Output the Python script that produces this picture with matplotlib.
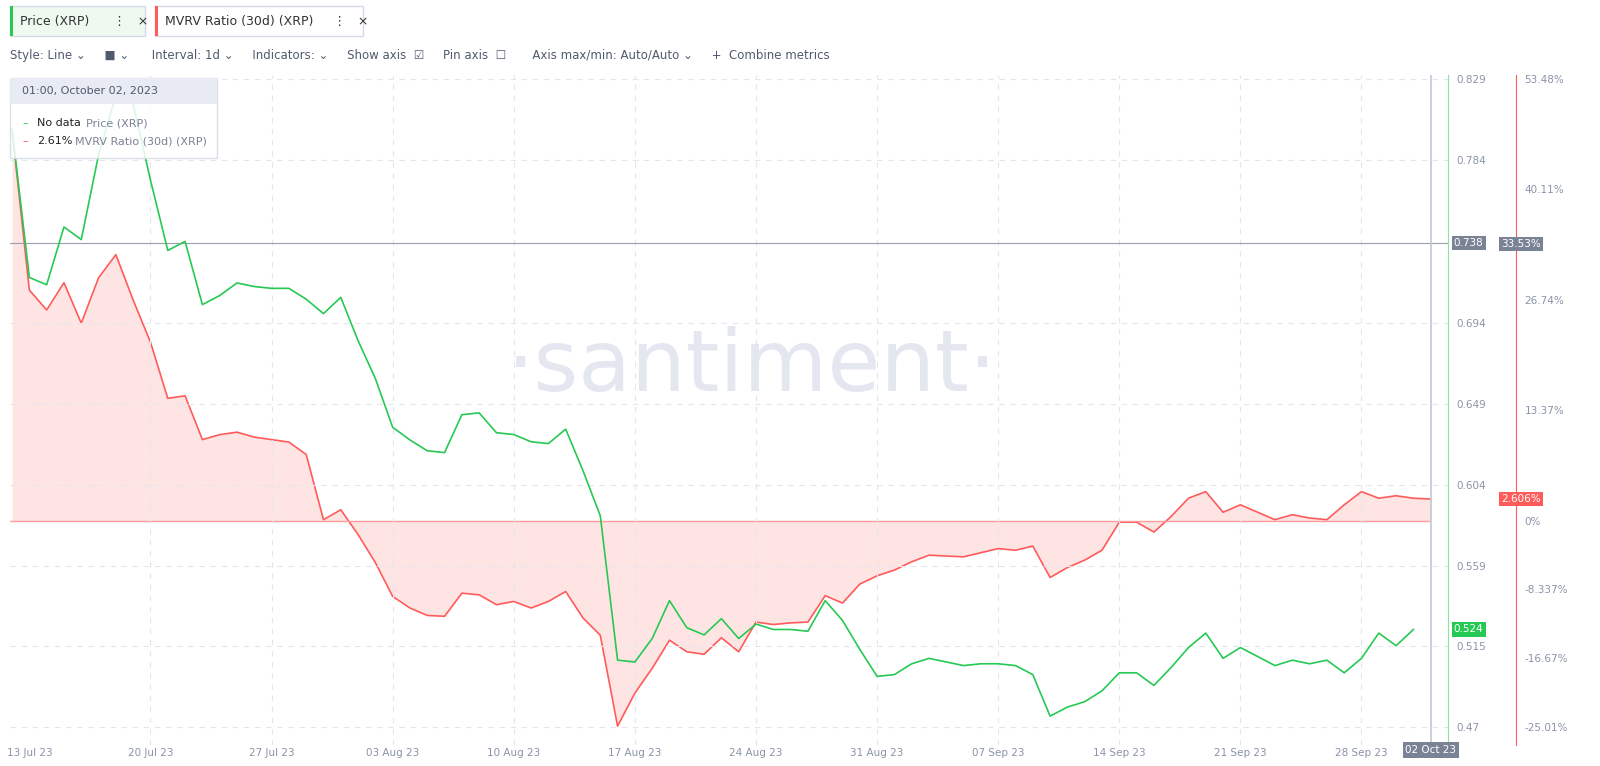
import matplotlib
matplotlib.use("Agg")
import matplotlib.pyplot as plt
from matplotlib.patches import Rectangle
import matplotlib.transforms as mtrans
import numpy as np

price = [0.801,0.719,0.715,0.747,0.740,0.787,0.820,0.815,0.773,0.734,
         0.739,0.704,0.709,0.716,0.714,0.713,0.713,0.707,0.699,0.708,
         0.684,0.663,0.636,0.629,0.623,0.622,0.643,0.644,0.633,0.632,
         0.628,0.627,0.635,0.612,0.587,0.507,0.506,0.519,0.540,0.525,
         0.521,0.530,0.519,0.527,0.524,0.524,0.523,0.540,0.529,0.513,
         0.498,0.499,0.505,0.508,0.506,0.504,0.505,0.505,0.504,0.499,
         0.476,0.481,0.484,0.490,0.500,0.500,0.493,0.503,0.514,0.522,
         0.508,0.514,0.509,0.504,0.507,0.505,0.507,0.500,0.508,0.522,
         0.515,0.524]
mvrv = [47.3,27.9,25.5,28.8,23.9,29.4,32.2,26.7,21.6,14.8,
        15.1,9.8,10.4,10.7,10.1,9.8,9.5,8.0,0.1,1.3,
        -1.7,-5.1,-9.2,-10.6,-11.5,-11.6,-8.8,-9.0,-10.2,-9.8,
        -10.6,-9.8,-8.6,-11.8,-13.9,-24.9,-20.9,-17.9,-14.5,-15.9,
        -16.2,-14.2,-15.9,-12.3,-12.6,-12.4,-12.3,-9.1,-10.0,-7.7,
        -6.7,-6.0,-5.0,-4.2,-4.3,-4.4,-3.9,-3.4,-3.6,-3.1,
        -6.9,-5.7,-4.8,-3.6,-0.2,-0.2,-1.4,0.5,2.7,3.5,
        1.0,1.9,1.0,0.1,0.7,0.3,0.1,1.9,3.5,2.7,
        3.0,2.7,2.61]
date_labels = ["13 Jul 23","20 Jul 23","27 Jul 23","03 Aug 23","10 Aug 23","17 Aug 23",
               "24 Aug 23","31 Aug 23","07 Sep 23","14 Sep 23","21 Sep 23","28 Sep 23"]
date_pos = [1,8,15,22,29,36,43,50,57,64,71,78]
price_ticks = [0.829,0.784,0.694,0.649,0.604,0.559,0.515,0.47]
price_tick_labels = ["0.829","0.784","0.694","0.649","0.604","0.559","0.515","0.47"]
mvrv_ticks = [53.48,40.11,26.74,13.37,0,-8.337,-16.67,-25.01]
mvrv_tick_labels = ["53.48%","40.11%","26.74%","13.37%","0%","-8.337%","-16.67%","-25.01%"]

GREEN = "#26c953"; RED = "#ff5b5b"; GREY = "#8a93a8"
W, H = 1600, 766
fig = plt.figure(figsize=(16, 7.66), dpi=100)
ax = fig.add_axes([10/W, 1-745/H, 1438/W, 670/H])
ax2 = ax.twinx()
ax.set_xlim(-0.12, 83.0)
ax.set_ylim(0.4600, 0.8312)
ax2.set_ylim(-27.19, 53.96)

xp = np.arange(len(price)); xm = np.arange(len(mvrv))
ax2.fill_between(xm, mvrv, 0, color="#ffe1e1", alpha=0.9, lw=0)
ax2.plot(xm, mvrv, color=RED, lw=1.2)
ax2.axhline(0, color="#ff9c9c", lw=1, xmax=82.0/83.12)
ax.plot(xp, price, color=GREEN, lw=1.2, zorder=5)
ax.set_zorder(ax2.get_zorder()+1); ax.patch.set_visible(False)

for t in price_ticks:
    ax.axhline(t, color="#e3e6ec", lw=0.8, ls=(0, (5, 5)), zorder=0)
for d in date_pos[1:]:
    ax.axvline(d, color="#e3e6ec", lw=0.8, ls=(0, (5, 5)), zorder=0)
ax.axhline(0.738, color="#9aa0ac", lw=0.8)
ax.axvline(82, color="#c2c7d6", lw=1.2)

for s in ["top", "left", "bottom"]:
    ax.spines[s].set_visible(False); ax2.spines[s].set_visible(False)
ax.yaxis.tick_right()
ax2.spines["right"].set_position(("outward", 49))
ax2.spines["right"].set_color(RED)
ax.spines["right"].set_visible(True)
ax.spines["right"].set_color("#8fe0a3")
ax.set_yticks(price_ticks, price_tick_labels)
ax2.set_yticks(mvrv_ticks, mvrv_tick_labels)
ax.tick_params(axis="y", length=0, labelsize=7.5, labelcolor=GREY, pad=6)
ax2.tick_params(axis="y", length=0, labelsize=7.5, labelcolor=GREY, pad=6)
ax.set_xticks(date_pos, date_labels)
ax.tick_params(axis="x", length=0, labelsize=7.5, labelcolor=GREY, pad=2)

for y, txt, fc in [(0.738, "0.738", "#7a8296"), (0.524, "0.524", GREEN)]:
    ax.text(1.004, y, txt, transform=ax.get_yaxis_transform(), fontsize=7.5, color="white",
            va="center", ha="left", bbox=dict(boxstyle="square,pad=0.2", fc=fc, ec="none"))
off = mtrans.ScaledTranslation(53/100, 0, fig.dpi_scale_trans)
for y, txt, fc in [(33.53, "33.53%", "#7a8296"), (2.606, "2.606%", RED)]:
    ax2.text(1.0, y, txt, transform=ax2.get_yaxis_transform() + off, fontsize=7.5, color="white",
             va="center", ha="left", bbox=dict(boxstyle="square,pad=0.2", fc=fc, ec="none"))
ax.text(82, 0.4600, "02 Oct 23", ha="center", va="top", fontsize=7.5, color="white",
        bbox=dict(boxstyle="square,pad=0.25", fc="#7a8296", ec="none"))

fig.text(0.47, 0.52, "·santiment·", fontsize=62, color="#e4e7f0", ha="center", va="center", zorder=0)

# tooltip
fig.patches.append(Rectangle((10/W, 1-158/H), 207/W, 80/H, transform=fig.transFigure,
                             fc="white", ec="#d5dae6", lw=1, alpha=0.85, zorder=10))
fig.patches.append(Rectangle((10/W, 1-104/H), 207/W, 26/H, transform=fig.transFigure,
                             fc="#e8ebf3", ec="none", zorder=11))
fig.text(22/W, 1-91/H, "01:00, October 02, 2023", fontsize=8, color="#505a6e", va="center", zorder=12)
fig.text(22/W, 1-123/H, "–", fontsize=8, color=GREEN, va="center", zorder=12)
fig.text(37/W, 1-123/H, "No data", fontsize=8, color="#222", va="center", zorder=12)
fig.text(86/W, 1-123/H, "Price (XRP)", fontsize=8, color="#7a8296", va="center", zorder=12)
fig.text(22/W, 1-141/H, "–", fontsize=8, color=RED, va="center", zorder=12)
fig.text(37/W, 1-141/H, "2.61%", fontsize=8, color="#222", va="center", zorder=12)
fig.text(75/W, 1-141/H, "MVRV Ratio (30d) (XRP)", fontsize=8, color="#7a8296", va="center", zorder=12)

# header chips
fig.patches.append(Rectangle((10/W, 1-36/H), 135/W, 30/H, transform=fig.transFigure, fc="#eefaf0", ec="#d5dae6"))
fig.patches.append(Rectangle((10/W, 1-36/H), 3/W, 30/H, transform=fig.transFigure, fc=GREEN, ec="none"))
fig.text(20/W, 1-21/H, "Price (XRP)      ⋮   ×", fontsize=9, color="#333", va="center")
fig.patches.append(Rectangle((155/W, 1-36/H), 208/W, 30/H, transform=fig.transFigure, fc="#fff", ec="#d5dae6"))
fig.patches.append(Rectangle((155/W, 1-36/H), 3/W, 30/H, transform=fig.transFigure, fc=RED, ec="none"))
fig.text(165/W, 1-21/H, "MVRV Ratio (30d) (XRP)     ⋮   ×", fontsize=9, color="#333", va="center")
fig.text(10/W, 1-56/H, "Style: Line ⌄     ■ ⌄      Interval: 1d ⌄     Indicators: ⌄     Show axis  ☑     Pin axis  ☐       Axis max/min: Auto/Auto ⌄     +  Combine metrics",
         fontsize=8.5, color="#505a6e", va="center")
fig.savefig("out.png", dpi=100)
